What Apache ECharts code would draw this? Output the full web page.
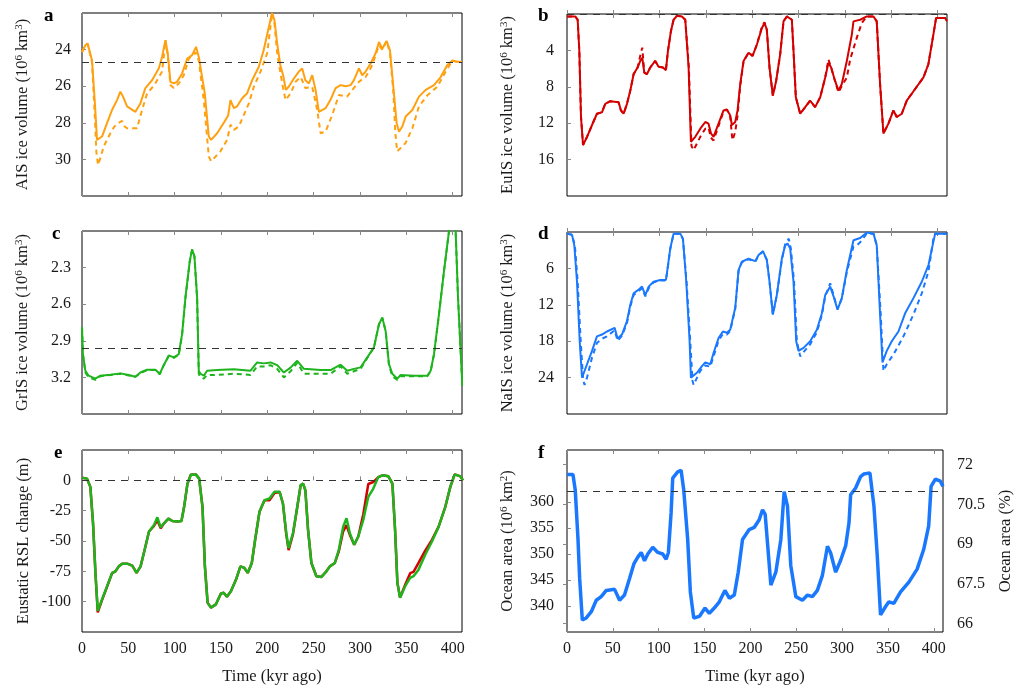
<!DOCTYPE html>
<html>
<head>
<meta charset="utf-8">
<script src="https://cdn.jsdelivr.net/npm/echarts@6/dist/echarts.min.js"></script>
<style>
html, body { margin: 0; padding: 0; background: #fff; }
#main { width: 1027px; height: 686px; }
</style>
</head>
<body>
<div id="main"></div>
<script>
// time axis shared by all panels (kyr ago)
var timeMin = 0, timeMax = 410;
var timeTicks = [0, 50, 100, 150, 200, 250, 300, 350, 400];

// a: AIS ice volume (10^6 km^3), solid and dashed runs
var aisSolid = [[0,24.13],[3.6,23.76],[6,23.67],[8,23.7],[10.8,24.58],[13.7,26.76],[16.2,28.93],[18,29.0],[21.6,28.75],[27,28.02],[32.4,27.3],[37.8,26.76],[41.4,26.3],[44.3,26.57],[48.6,27.1],[57.6,27.4],[63,26.94],[68.4,26.1],[75.6,25.67],[82.8,25.03],[86.4,24.4],[90,23.49],[92.5,24.2],[95.4,25.76],[99,25.85],[102.6,25.76],[108,25.3],[113.4,24.5],[118.8,24.3],[123,23.85],[126,24.4],[129.6,25.5],[132.5,26.4],[136.8,28.75],[139.3,28.93],[145.8,28.57],[153,28.0],[157.7,27.6],[160.2,26.76],[163.8,27.2],[167.4,27.1],[172.8,26.66],[178,26.4],[183.6,25.67],[190.8,24.94],[196,24.04],[201.6,22.77],[205,22.0],[207.7,22.4],[210.6,23.67],[214,24.85],[217,25.4],[220,26.2],[223,26.03],[228.6,25.58],[234,25.2],[237.6,25.03],[241,25.67],[244.8,25.85],[248.4,25.4],[252,26.2],[255.6,27.4],[262.8,27.2],[268,26.76],[273.6,26.1],[279,25.94],[284.4,26.0],[289.8,25.94],[293.4,25.67],[298.8,25.03],[302.4,25.4],[306,25.2],[311.4,24.76],[316.8,24.2],[320.4,23.58],[324,23.95],[328.7,23.53],[332.3,24.04],[335.9,26.03],[339.5,28.02],[342,28.48],[345.6,28.2],[349.2,27.66],[356.4,27.3],[363.6,26.57],[370.8,26.2],[379.8,25.94],[387,25.5],[394,24.85],[399.6,24.6],[405,24.67],[410,24.67]];
var aisDashed = [[0,24.13],[3.6,23.76],[6,23.67],[8,23.7],[10.8,24.7],[13.7,27.5],[15.5,29.6],[17.3,30.3],[20,29.9],[23.4,29.3],[30.6,28.57],[35,28.2],[39.6,28.0],[43.2,27.9],[46,28.2],[48.6,28.3],[59.4,28.3],[61,28.0],[64.8,27.3],[70.2,26.4],[78,25.94],[86.4,25.2],[88,24.5],[90,23.49],[92.5,24.3],[95.4,25.94],[99,26.1],[104.4,25.85],[109.8,25.4],[115.2,24.5],[122.4,24.15],[126,24.6],[131.4,26.76],[136.8,29.84],[139.3,30.1],[149.4,29.56],[156.6,28.93],[160.2,28.1],[163.8,28.39],[169.2,28.2],[174.6,27.57],[180,26.94],[185.4,26.03],[192.6,25.2],[199.8,24.2],[203,22.9],[205,22.0],[207.7,22.6],[210.6,24.2],[216,25.85],[219.6,26.76],[225,26.4],[230.4,25.76],[236,25.5],[241,26.1],[248.4,26.03],[253.8,27.3],[257.4,28.57],[262.8,28.48],[270,27.57],[277.2,26.48],[286,26.57],[291.6,26.2],[298.8,25.76],[306,25.5],[313.2,24.85],[320.4,23.76],[324,24.0],[328.7,23.53],[332.3,24.2],[335.9,26.3],[338,28.5],[340,29.56],[342,29.65],[349.2,29.1],[356.4,28.3],[363.6,27.1],[372.6,26.5],[383.4,26.03],[392.4,25.2],[399.6,24.6],[405,24.67],[410,24.67]];
var aisRef = 24.7;
var aisTicks = [24, 26, 28, 30];

// b: EuIS ice volume
var euisSolid = [[0,0.27],[9,0.27],[11.5,0.63],[13.3,4.07],[15.1,11.3],[17.3,14.4],[21.6,13.5],[27,12.2],[32.3,10.96],[37.7,10.8],[41.3,9.87],[46.7,9.58],[55.7,9.69],[58.2,10.6],[61.1,10.96],[64.7,9.87],[68.3,8.42],[71.9,6.6],[76.2,5.88],[79,5.16],[81.2,4.8],[83.4,6.43],[86.3,6.6],[89.8,5.88],[95.2,5.16],[98.8,5.8],[103.5,5.88],[106.7,6.17],[108.9,4.07],[112.1,1.9],[115,0.63],[118.6,0.2],[124,0.27],[127.6,0.63],[131.2,5.88],[133.7,14.04],[138.4,13.5],[143.8,12.6],[149.2,11.87],[152.7,12.05],[155.3,13.1],[158.1,13.5],[163.5,12.05],[168.9,10.6],[172.5,10.5],[176.1,11.14],[177.9,12.2],[181.5,11.87],[184,10.6],[186.9,7.7],[190.5,5.16],[195.9,4.25],[200.2,4.6],[204.9,3.35],[210.3,1.54],[213.1,0.99],[215.6,1.72],[218.5,5.88],[222.1,8.97],[225.7,7.33],[230,4.43],[233.6,0.81],[237.2,0.27],[242.6,0.63],[244.4,4.07],[246.9,9.15],[251.6,10.96],[257,10.23],[262.3,9.51],[267.7,10.23],[273.2,9.15],[278.6,6.97],[282.1,5.34],[285,5.88],[288.6,7.15],[292.9,8.42],[296.5,7.7],[301.9,5.16],[307.3,2.26],[309.1,0.81],[316.3,0.63],[323.5,0.27],[330.7,0.27],[334.2,0.81],[337.8,7.7],[341.4,13.13],[346.8,12.05],[352.2,10.6],[355.8,11.32],[361.2,10.96],[366.6,9.51],[375.6,8.24],[384.6,6.97],[389.9,5.52],[395.3,2.26],[398.2,0.45],[408,0.45],[410,0.81]];
var euisDashed = [[0,0.27],[9,0.27],[11.5,0.63],[13.3,4.07],[15.1,11.3],[17.3,14.4],[21.6,13.5],[27,12.2],[32.3,10.96],[37.7,10.8],[41.3,9.87],[46.7,9.58],[55.7,9.69],[58.2,10.6],[61.1,10.96],[64.7,9.87],[68.3,8.42],[71.9,6.6],[76.2,5.88],[79,4.6],[81.2,3.7],[83.4,6.43],[86.3,6.6],[89.8,5.88],[95.2,5.16],[98.8,5.8],[103.5,5.88],[106.7,6.17],[108.9,4.07],[112.1,1.9],[115,0.63],[118.6,0.2],[124,0.27],[127.6,0.63],[131.5,5.88],[134.3,14.5],[136.6,14.95],[143.8,13.5],[149.2,12.6],[152.7,12.5],[155.3,13.6],[158.1,13.9],[163.5,12.3],[168.9,10.7],[172.5,10.5],[176.1,11.3],[177.9,13.3],[178.6,13.86],[181.5,12.95],[184,11.2],[186.9,7.9],[190.5,5.2],[195.9,4.25],[200.2,4.6],[204.9,3.35],[210.3,1.4],[213.1,0.9],[215.6,1.72],[218.5,5.88],[222.1,8.97],[225.7,7.33],[230,4.43],[233.6,0.81],[237.2,0.27],[242.6,0.63],[244.4,4.07],[246.9,9.15],[251.6,10.96],[257,10.23],[262.3,9.51],[267.7,10.23],[273.2,9.15],[278.6,6.97],[282.1,5.0],[285,5.88],[288.6,7.15],[292.9,8.6],[296.5,7.9],[301.9,7.0],[305.5,5.0],[312.7,2.6],[318,1.0],[323.5,0.27],[330.7,0.27],[334.2,0.81],[337.8,7.7],[341.4,13.13],[346.8,12.05],[352.2,10.6],[355.8,11.32],[361.2,10.96],[366.6,9.51],[375.6,8.24],[384.6,6.97],[389.9,5.52],[395.3,2.26],[398.2,0.45],[408,0.45],[410,0.81]];
var euisRef = 0;
var euisTicks = [4, 8, 12, 16];

// c: GrIS ice volume
var grisSolid = [[0,2.79],[1,3.01],[3.6,3.145],[7.2,3.186],[14.4,3.21],[19.8,3.186],[30.6,3.178],[41.4,3.167],[50.4,3.18],[57.6,3.195],[63,3.16],[70.2,3.137],[79.2,3.137],[83.9,3.17],[88.2,3.1],[93.6,3.02],[99,3.036],[104.4,3.01],[108,2.845],[111.6,2.545],[116.3,2.245],[118.8,2.15],[121.3,2.205],[124.2,2.545],[126,3.145],[127.8,3.17],[131.4,3.186],[135,3.145],[145.8,3.14],[163.8,3.134],[181.8,3.145],[189,3.077],[196.2,3.085],[203.4,3.077],[210.6,3.1],[217.8,3.16],[225,3.12],[232.2,3.064],[239.4,3.13],[257.4,3.14],[268.2,3.14],[279,3.096],[286.2,3.145],[293.4,3.13],[300.6,3.118],[307.8,3.036],[315,2.954],[320.4,2.764],[324,2.71],[327.6,2.82],[331.2,3.09],[334.8,3.17],[340.2,3.21],[343.8,3.18],[358.2,3.186],[372.6,3.186],[376.2,3.145],[379.8,3.01],[385.2,2.68],[390.6,2.327],[396,2.0],[397.8,1.97],[403,1.97],[405.7,2.545],[410.4,3.27]];
var grisDashed = [[0,2.79],[1,3.01],[3.6,3.16],[7.2,3.2],[14.4,3.22],[19.8,3.19],[30.6,3.18],[41.4,3.17],[50.4,3.185],[57.6,3.195],[63,3.165],[70.2,3.14],[79.2,3.14],[83.9,3.175],[88.2,3.1],[93.6,3.025],[99,3.04],[104.4,3.015],[108,2.85],[111.6,2.55],[116.3,2.25],[118.8,2.155],[121.3,2.21],[124.2,2.55],[126,3.17],[127.8,3.2],[131.4,3.21],[135,3.18],[145.8,3.18],[163.8,3.17],[181.8,3.18],[189,3.11],[196.2,3.11],[203.4,3.1],[210.6,3.13],[217.8,3.2],[225,3.15],[232.2,3.08],[239.4,3.17],[257.4,3.17],[268.2,3.17],[279,3.11],[286.2,3.17],[293.4,3.15],[300.6,3.13],[307.8,3.04],[315,2.955],[320.4,2.765],[324,2.71],[327.6,2.82],[331.2,3.1],[334.8,3.19],[340.2,3.22],[343.8,3.19],[358.2,3.19],[372.6,3.19],[376.2,3.15],[379.8,3.01],[385.2,2.68],[390.6,2.327],[396,2.0],[397.8,1.97],[403,1.97],[405.7,2.545],[410.4,3.27]];
var grisRef = 2.955;
var grisTicks = [2.3, 2.6, 2.9, 3.2];

// d: NaIS ice volume
var naisSolid = [[0,0.27],[5.4,0.44],[7.9,2.2],[10.8,8.2],[13.7,18.0],[16.2,24.0],[21.6,21.8],[27,19.6],[32.3,17.2],[37.7,16.9],[43.1,16.4],[51.4,15.8],[54.6,17.6],[59.3,16.9],[64.7,14.7],[68.3,12.0],[71.9,10.1],[77.3,9.5],[80.9,9.0],[84.5,10.4],[88.1,9.0],[93.4,8.2],[100.6,7.9],[106.7,7.9],[107.8,6.8],[111.4,2.73],[115,0.27],[122.2,0.27],[125.1,1.09],[128.7,8.2],[132.3,18.0],[133.7,24.0],[140.2,23.2],[145.6,22.1],[149.2,21.5],[154.6,21.8],[158.2,19.9],[163.5,17.5],[168.2,16.4],[172.5,16.6],[176.1,16.1],[181.5,12.5],[185.1,6.3],[188.7,4.9],[195.9,4.4],[203.1,4.8],[206.7,3.8],[211.4,3.16],[215.6,4.6],[218.5,8.2],[222.1,13.6],[226.4,10.4],[231.8,4.4],[235.4,2.2],[237.9,1.9],[240.8,2.7],[244.4,8.2],[247.3,18.0],[249.8,19.6],[255.2,19.1],[262.4,18.0],[269.6,16.1],[275,13.4],[278.6,10.4],[284,9.0],[287.6,10.6],[291.9,12.8],[296.5,10.9],[301.9,6.3],[309.1,1.36],[316.3,0.98],[323.5,0.1],[330.7,0.27],[334.2,2.2],[337.8,13.6],[340.4,21.5],[345,19.6],[350.4,18.0],[357.6,16.4],[364.8,13.4],[373.8,10.9],[382.8,8.2],[390,5.45],[397.2,0.27],[410,0.27]];
var naisDashed = [[0,0.27],[5.4,0.44],[8.5,2.2],[11.5,8.2],[14.8,18.0],[17.5,24.5],[19,25.2],[21.6,24.0],[27,20.7],[32.3,18.3],[37.7,17.6],[43.1,17.2],[51.4,16.2],[54.6,17.9],[59.3,17.1],[64.7,15.0],[68.3,12.3],[71.9,10.4],[77.3,9.7],[80.9,9.3],[84.5,10.6],[88.1,9.3],[93.4,8.3],[100.6,8.0],[106.7,8.0],[107.8,6.9],[111.4,2.8],[115,0.27],[122.2,0.27],[125.1,1.2],[129,8.2],[133,18.0],[135.4,24.5],[136.6,25.2],[143.8,22.9],[149.2,22.0],[154.6,22.2],[158.2,20.5],[163.5,17.9],[168.2,16.8],[172.5,16.9],[176.1,16.3],[181.5,12.7],[185.1,6.4],[188.7,5.0],[195.9,4.5],[203.1,4.9],[206.7,3.9],[211.4,3.2],[215.6,4.6],[218.5,8.2],[222.1,13.6],[226.4,10.4],[231.8,4.6],[235.4,2.0],[239.3,1.1],[241.5,2.7],[245,8.2],[248,18.0],[251.6,20.5],[255.2,19.8],[262.4,18.5],[269.6,16.5],[275,13.7],[278.6,10.6],[284,8.45],[287.6,10.4],[291.9,12.7],[296.5,11.0],[301.9,6.6],[309.1,2.4],[312.7,2.2],[316.3,1.7],[323.5,0.27],[330.7,0.27],[334.2,2.2],[338.5,13.6],[341.4,22.9],[345,21.8],[352.2,20.2],[363,17.2],[373.8,13.6],[382.8,10.1],[390,6.5],[395.3,1.1],[397.2,0.27],[410,0.27]];
var naisTicks = [6, 12, 18, 24];

// e: eustatic RSL change (m), red and green runs
var rslGreen = [[0,2.2],[5.4,1.4],[9,-5.4],[11.9,-35.4],[14.5,-76.3],[17,-107.6],[21.7,-98],[27.1,-87.2],[32.5,-76.3],[36.1,-75],[39.7,-70.9],[43.4,-68.7],[48.8,-68.7],[54.2,-70.3],[58.9,-76.3],[63.2,-70.9],[67.6,-57.2],[72.3,-42.2],[77.7,-36.8],[81.3,-30.5],[84.9,-38.7],[88.5,-35.4],[93.2,-31.6],[97.5,-33.5],[103,-34],[107.3,-33.5],[110.2,-21.8],[113.8,-2.7],[117.4,4.6],[122.8,4.9],[126.4,1.4],[130,-21.8],[132.6,-70.9],[135.5,-100.8],[139.1,-104.9],[144.5,-102.2],[149.9,-93.2],[152.8,-92.7],[156.4,-95.9],[160.8,-91.3],[166.2,-81.8],[170.9,-70.9],[175.2,-72.2],[178.8,-76.3],[183.2,-68.1],[186.8,-49],[191.5,-25.9],[196.9,-16.4],[202.3,-15],[207.7,-9.5],[213.2,-9.5],[216.8,-19.1],[220.4,-43.6],[222.9,-55.9],[227.6,-43.6],[232.3,-21.8],[235.9,-4.1],[238.5,-2.7],[241,-8.2],[243.9,-40.9],[247.5,-68.1],[252.9,-79],[258.3,-79.6],[263.7,-75],[267.4,-70.9],[272.8,-68.1],[277.1,-57.2],[281.8,-38.2],[285.4,-31.3],[289,-43.6],[293.7,-53.1],[298.1,-46.3],[303.5,-32.7],[308.9,-13.6],[314.3,-6.8],[319.7,2.7],[324.1,4.1],[330.6,3.3],[334.9,-2.7],[337.8,-40.9],[340.3,-84.5],[343.2,-96.7],[348.7,-87.2],[354.1,-80.4],[357.7,-79],[363.1,-73.6],[370.3,-61.3],[377.6,-50.4],[384.8,-38.2],[392,-21.8],[397.4,-5.4],[402.1,4.9],[408.3,3.3],[411,0]];
var rslRed = [[0,2.2],[5.4,1.4],[9,-5.4],[11.9,-35.4],[14.5,-76.3],[17,-108.8],[21.7,-98.5],[27.1,-87.5],[32.5,-76.5],[36.1,-75],[39.7,-70.9],[43.4,-68.7],[48.8,-68.7],[54.2,-70.3],[58.9,-76.3],[63.2,-70.9],[67.6,-57.2],[72.3,-42.2],[77.7,-37.5],[81.3,-33],[84.9,-39.5],[88.5,-35.4],[93.2,-31.6],[97.5,-33.5],[103,-34],[107.3,-33.5],[110.2,-21.8],[113.8,-2.7],[117.4,4.6],[122.8,4.9],[126.4,1.4],[130,-21.8],[132.6,-70.9],[135.5,-100.8],[139.1,-104.9],[144.5,-102.2],[149.9,-93.2],[152.8,-92.7],[156.4,-95.9],[160.8,-91.3],[166.2,-81.8],[170.9,-70.9],[175.2,-72.2],[178.8,-76.3],[183.2,-68.1],[186.8,-49],[191.5,-25.9],[196.9,-16.4],[202.3,-16.5],[207.7,-10.5],[213.2,-9.5],[216.8,-19.1],[220.4,-44.5],[222.9,-57.5],[227.6,-44.5],[232.3,-21.8],[235.9,-4.1],[238.5,-2.7],[241,-8.2],[243.9,-40.9],[247.5,-68.1],[252.9,-79],[258.3,-79.6],[263.7,-75],[267.4,-70.9],[272.8,-68.1],[277.1,-58.5],[281.8,-42],[285.4,-37],[289,-45],[293.7,-53.1],[298.1,-46.3],[303.5,-28],[308.9,-3],[314.3,-1.4],[319.7,2.7],[324.1,4.1],[330.6,3.3],[334.9,-2.7],[337.8,-40.9],[340.3,-84.5],[343.2,-96.7],[348.7,-86],[354.1,-76.5],[357.7,-75.5],[363.1,-68],[370.3,-58],[377.6,-49],[384.8,-38.2],[392,-21.8],[397.4,-5.4],[402.1,4.9],[408.3,3.3],[411,0]];
var rslTicks = [-100, -75, -50, -25, 0];

// f: ocean area (10^6 km^2), right axis in % of Earth surface
var oceanArea = [[0,365.3],[6.5,365.3],[9,362.3],[12,352.8],[13.8,345.3],[16.7,337.3],[21,337.7],[26.5,338.9],[31.9,341.1],[37.3,341.8],[42.8,343.0],[51.9,343.2],[57.3,341.1],[62.7,342.1],[68.2,345.3],[72.9,348.1],[77.2,349.4],[80.9,350.3],[84.5,348.7],[88.1,350],[93.5,351.3],[99,350.3],[104.4,350],[108.1,349],[110.6,350.3],[113.5,357.9],[115.3,364.6],[120.7,365.8],[124.4,366.1],[127.3,362.3],[131.6,352.8],[134.5,342.7],[138.2,337.7],[144.3,338],[150.5,339.6],[155.2,338.6],[160.6,339.6],[166.1,340.8],[172.2,343.0],[177,341.5],[182.4,342.1],[186.7,346.5],[191.4,352.8],[198.7,354.7],[204.1,355.1],[209.6,356.6],[213.2,358.5],[216.1,357.6],[218.6,352.2],[222.3,344],[227.7,346.5],[233.2,352.8],[236.8,362],[240.4,359.2],[244,347.8],[249.5,341.8],[256.7,341.1],[262.2,342.1],[267.6,341.8],[273,343],[278.5,345.9],[284,351.5],[287.5,350.2],[293,346.5],[298.4,348.8],[303.9,351.6],[307.5,356],[309.3,361.4],[314.7,362.7],[320.2,364.9],[323.8,365.4],[330.3,365.6],[334.7,359.2],[338.3,349.7],[341.9,338.3],[347.4,339.9],[351,340.8],[356.4,340.5],[363.7,342.7],[372.8,344.6],[381.8,347.1],[389,350.9],[394.4,355.4],[397,363],[401.7,364.4],[407.1,364],[410,363]];
var oceanRef = 362;
var oceanTicks = [340, 345, 350, 355, 360];
var oceanPctTicks = [66, 67.5, 69, 70.5, 72];
var earthArea = 5.1; // 10^6 km^2 per percent

var FONT = 'Liberation Serif';
var TXT = '#1a1a1a';
var ORANGE = '#ffa010', RED = '#d40000', GREEN = '#1eb41e', BLUE = '#1a78ff';

var chart = echarts.init(document.getElementById('main'), null, { renderer: 'canvas' });

// panel frames (px), lx/ly = letter position
var panels = [
  { key: 'a', left: 82,  top: 13,  width: 380, height: 183, lx: 39,  ly: 2 },
  { key: 'b', left: 567, top: 14,  width: 380, height: 182, lx: 533, ly: 2 },
  { key: 'c', left: 82,  top: 231, width: 380, height: 183, lx: 47,  ly: 220 },
  { key: 'd', left: 567, top: 232, width: 380, height: 182, lx: 533, ly: 220 },
  { key: 'e', left: 82,  top: 450, width: 380, height: 183, lx: 49,  ly: 439 },
  { key: 'f', left: 567, top: 450, width: 376, height: 183, lx: 533, ly: 439 }
];

var supRich = {
  sup: { fontFamily: FONT, fontSize: 11, color: TXT, verticalAlign: 'top', padding: [0, 0, 7, 0] }
};

function xAxisFor(i, withLabels) {
  return {
    type: 'value', gridIndex: i, min: timeMin, max: timeMax,
    axisLine: { show: false },
    axisTick: { inside: true, length: 4, lineStyle: { color: '#888' }, customValues: timeTicks },
    axisLabel: { show: withLabels, customValues: timeTicks, margin: 9,
      fontFamily: FONT, fontSize: 16, color: TXT },
    splitLine: { show: false },
    name: withLabels ? 'Time (kyr ago)' : '',
    nameLocation: 'middle', nameGap: 36,
    nameTextStyle: { fontFamily: FONT, fontSize: 16.5, color: TXT }
  };
}

function topAxisFor(i) {
  return {
    type: 'value', gridIndex: i, position: 'top', min: timeMin, max: timeMax,
    axisLine: { show: false },
    axisTick: { inside: true, length: 4, lineStyle: { color: '#888' }, customValues: timeTicks },
    axisLabel: { show: false },
    splitLine: { show: false }
  };
}

function yAxisFor(i, min, max, ticks, name, inverse, gap, margin) {
  return {
    type: 'value', gridIndex: i, min: min, max: max, inverse: inverse,
    axisLine: { show: false },
    axisTick: { inside: true, length: 4, lineStyle: { color: '#888' }, customValues: ticks },
    axisLabel: { customValues: ticks, margin: margin, fontFamily: FONT, fontSize: 16, color: TXT },
    splitLine: { show: false },
    name: name, nameLocation: 'middle', nameGap: gap, nameRotate: 90,
    nameTextStyle: { fontFamily: FONT, fontSize: 16.5, color: TXT, rich: supRich }
  };
}

function refLine(v) {
  return {
    silent: true, symbol: ['none', 'none'], label: { show: false },
    lineStyle: { type: [7, 6], color: '#333', width: 1 },
    emphasis: { disabled: true },
    data: [{ yAxis: v }]
  };
}

function lineSeries(i, data, color, width, dashed, ref) {
  var s = {
    type: 'line', xAxisIndex: i, yAxisIndex: i, data: data,
    showSymbol: false, animation: false, silent: true,
    lineStyle: { color: color, width: width, type: dashed ? [5, 4] : 'solid' },
    clip: true
  };
  if (ref !== undefined) s.markLine = refLine(ref);
  return s;
}

var grids = panels.map(function (p) {
  return { left: p.left, top: p.top, width: p.width, height: p.height,
    show: true, borderColor: '#000', borderWidth: 1, backgroundColor: 'transparent' };
});

var xAxes = [];
for (var i = 0; i < 6; i++) xAxes.push(xAxisFor(i, i >= 4));
for (var j = 0; j < 6; j++) xAxes.push(topAxisFor(j));

var yAxes = [
  yAxisFor(0, 22, 32, aisTicks, 'AIS ice volume (10{sup|6} km{sup|3})', true, 50, 11),
  yAxisFor(1, 0, 20, euisTicks, 'EuIS ice volume (10{sup|6} km{sup|3})', true, 50, 13),
  yAxisFor(2, 2.0, 3.5, grisTicks, 'GrIS ice volume (10{sup|6} km{sup|3})', true, 50, 11),
  yAxisFor(3, 0, 30, naisTicks, 'NaIS ice volume (10{sup|6} km{sup|3})', true, 50, 13),
  yAxisFor(4, -125, 25, rslTicks, 'Eustatic RSL change (m)', false, 50, 11),
  yAxisFor(5, 335, 370, oceanTicks, 'Ocean area (10{sup|6} km{sup|2})', false, 50, 13),
  // right axis of panel f, same span expressed in %
  {
    type: 'value', gridIndex: 5, position: 'right',
    min: 335 / earthArea, max: 370 / earthArea,
    axisLine: { show: false },
    axisTick: { inside: true, length: 4, lineStyle: { color: '#888' }, customValues: oceanPctTicks },
    axisLabel: { customValues: oceanPctTicks, margin: 14, fontFamily: FONT, fontSize: 16, color: TXT },
    splitLine: { show: false },
    name: 'Ocean area (%)', nameLocation: 'middle', nameGap: 54, nameRotate: 90,
    nameTextStyle: { fontFamily: FONT, fontSize: 16.5, color: TXT }
  }
];

var series = [
  lineSeries(0, aisDashed, ORANGE, 2, true),
  lineSeries(0, aisSolid, ORANGE, 2, false, aisRef),
  lineSeries(1, euisDashed, RED, 2, true),
  lineSeries(1, euisSolid, RED, 2, false, euisRef),
  lineSeries(2, grisDashed, GREEN, 2, true),
  lineSeries(2, grisSolid, GREEN, 2, false, grisRef),
  lineSeries(3, naisDashed, BLUE, 2, true),
  lineSeries(3, naisSolid, BLUE, 2, false),
  lineSeries(4, rslRed, RED, 2.5, false),
  lineSeries(4, rslGreen, GREEN, 2.5, false, 0),
  lineSeries(5, oceanArea, BLUE, 3.5, false, oceanRef)
];

// panel letters
var titles = panels.map(function (p) {
  return { text: p.key, left: p.lx, top: p.ly,
    textStyle: { fontFamily: FONT, fontSize: 19, fontWeight: 'bold', color: '#000' } };
});

chart.setOption({
  animation: false,
  backgroundColor: '#fff',
  title: titles,
  grid: grids,
  xAxis: xAxes,
  yAxis: yAxes,
  series: series
});
</script>
</body>
</html>
